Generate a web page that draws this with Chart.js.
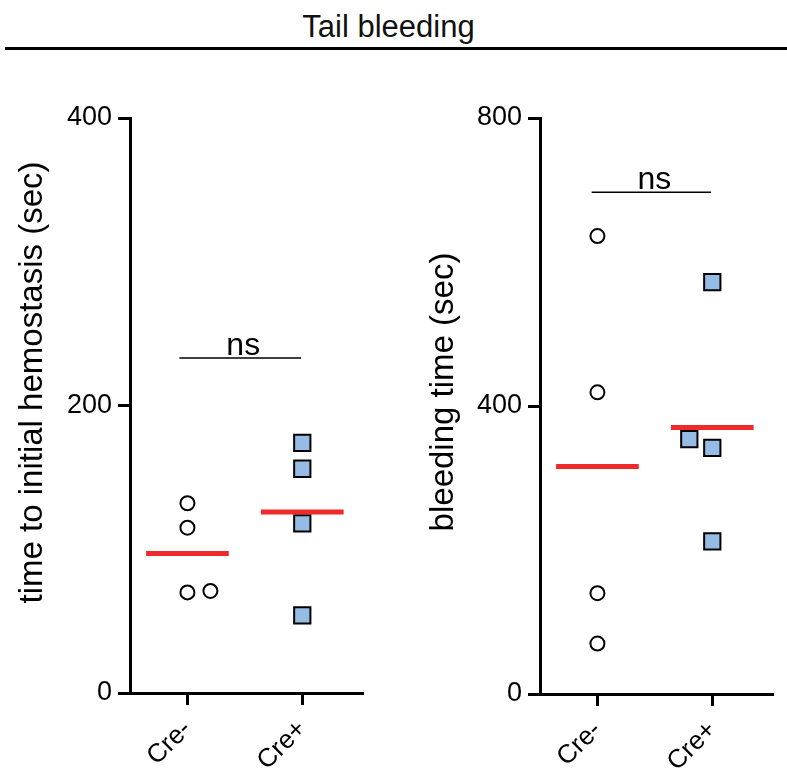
<!DOCTYPE html>
<html>
<head>
<meta charset="utf-8">
<script src="https://cdn.jsdelivr.net/npm/chart.js@4.4.1/dist/chart.umd.min.js"></script>
<style>
  html, body { margin:0; padding:0; background:#fff; }
  body { width:787px; height:774px; position:relative; overflow:hidden; font-family:"Liberation Sans", Arial, sans-serif; }
  #title { position:absolute; left:0; width:777px; top:11px; line-height:31px; text-align:center; font-size:31px; color:#111; }
  #rule { position:absolute; left:5px; right:0; top:47px; height:3px; background:#000; }
  canvas { position:absolute; top:60px; }
  #chart1 { left:0; }
  #chart2 { left:400px; }
</style>
</head>
<body>
<div id="title">Tail bleeding</div>
<div id="rule"></div>
<canvas id="chart1" width="390" height="714"></canvas>
<canvas id="chart2" width="387" height="714"></canvas>
<script>
// groups on the x axis
const categories = ['Cre-', 'Cre+'];

// left panel: time to initial hemostasis (sec)
const hemoCreNeg  = [132, 115, 70, 71];
const hemoCreNegX = [1, 1, 1, 1.2];
const hemoCrePos  = [174, 156, 118, 54];
const hemoCrePosX = [2, 2, 2, 2];
const hemoMeans   = [97, 126];
const hemoNs      = 233;
const hemoTicks   = [0, 200, 400];

// right panel: bleeding time (sec)
const bleedCreNeg  = [636, 419, 140, 70];
const bleedCreNegX = [1, 1, 1, 1];
const bleedCrePos  = [354, 342, 572, 212];
const bleedCrePosX = [1.8, 2, 2, 2];
const bleedMeans   = [316, 370];
const bleedNs      = 697;
const bleedTicks   = [0, 400, 800];

const FONT = '"Liberation Sans", Arial, sans-serif';
Chart.defaults.font.family = FONT;
Chart.defaults.color = '#000';

// writes "ns" above the bracket line
const nsLabel = {
  id: 'nsLabel',
  afterDatasetsDraw(chart) {
    const ds = chart.data.datasets.find(d => d.label === 'ns');
    if (!ds) return;
    const d = ds.data;
    const xs = chart.scales.x, ys = chart.scales.y;
    const cx = (xs.getPixelForValue(d[0].x) + xs.getPixelForValue(d[1].x)) / 2 + 3;
    const cy = ys.getPixelForValue(d[0].y) - 3;
    const ctx = chart.ctx;
    ctx.save();
    ctx.font = '32px ' + FONT;
    ctx.fillStyle = '#000';
    ctx.textAlign = 'center';
    ctx.textBaseline = 'alphabetic';
    ctx.fillText('ns', cx, cy);
    ctx.restore();
  }
};

// rotated y axis title, a bit above the middle of the axis like the original
const yTitle = {
  id: 'yTitle',
  afterDraw(chart, args, opts) {
    const a = chart.chartArea, ctx = chart.ctx;
    ctx.save();
    ctx.translate(opts.x, (a.top + a.bottom) / 2 - opts.dy);
    ctx.rotate(-Math.PI / 2);
    ctx.font = opts.size + 'px ' + FONT;
    ctx.fillStyle = '#000';
    ctx.textAlign = 'center';
    ctx.textBaseline = 'middle';
    ctx.fillText(opts.text, 0, 0);
    ctx.restore();
  }
};

function pts(xs, ys) { return ys.map((y, i) => ({ x: xs[i], y })); }

function makeChart(id, c) {
  const meanSets = c.means.map((m, i) => ({
    type: 'line', label: 'mean ' + categories[i],
    data: [{ x: i + 1 - 0.36, y: m }, { x: i + 1 + 0.36, y: m }],
    borderColor: '#ee2a2a', borderWidth: 5, pointRadius: 0, borderCapStyle: 'butt'
  }));
  return new Chart(document.getElementById(id), {
    type: 'scatter',
    data: {
      datasets: [
        ...meanSets,
        { label: categories[0], data: pts(c.negX, c.neg), pointStyle: 'circle', pointRadius: 7,
          borderWidth: 2, borderColor: '#000', backgroundColor: '#fff' },
        { label: categories[1], data: pts(c.posX, c.pos), pointStyle: 'rect', pointRadius: 11.5,
          borderWidth: 2, borderColor: '#000', backgroundColor: '#94bce4' },
        { type: 'line', label: 'ns', data: [{ x: c.nsFrom, y: c.ns }, { x: 1.99, y: c.ns }],
          borderColor: '#000', borderWidth: 1.5, pointRadius: 0 }
      ]
    },
    options: {
      responsive: false, animation: false, devicePixelRatio: 1,
      layout: { padding: { top: 58, right: c.padRight, bottom: 0, left: 0 } },
      plugins: {
        legend: { display: false }, tooltip: { enabled: false },
        yTitle: { text: c.title, x: c.titleX, dy: c.titleDy, size: 33 }
      },
      scales: {
        x: {
          type: 'linear', min: 0.5, max: 2.52,
          afterFit: s => { s.height = c.xHeight; },
          afterBuildTicks: s => { s.ticks = categories.map((_, i) => ({ value: i + 1 })); },
          ticks: { callback: v => categories[v - 1], minRotation: 45, maxRotation: 45, autoSkip: false,
                   font: { size: 26 }, padding: 9 },
          grid: { drawOnChartArea: false, drawTicks: true, tickLength: 12, lineWidth: 3, color: '#000' },
          border: { display: true, width: 3, color: '#000' }
        },
        y: {
          min: 0, max: c.ticks[c.ticks.length - 1],
          afterFit: s => { s.width = c.yWidth; },
          afterBuildTicks: s => { s.ticks = c.ticks.map(v => ({ value: v })); },
          ticks: { font: { size: 27 }, padding: 6 },
          grid: { drawOnChartArea: false, drawTicks: true, tickLength: 12, lineWidth: 3, color: '#000' },
          border: { display: true, width: 3, color: '#000' }
        }
      }
    },
    plugins: [nsLabel, yTitle]
  });
}

makeChart('chart1', {
  neg: hemoCreNeg, negX: hemoCreNegX, pos: hemoCrePos, posX: hemoCrePosX,
  means: hemoMeans, ns: hemoNs, nsFrom: 0.93, ticks: hemoTicks,
  title: 'time to initial hemostasis (sec)', titleX: 33, titleDy: 23,
  yWidth: 130, xHeight: 81, padRight: 28
});

makeChart('chart2', {
  neg: bleedCreNeg, negX: bleedCreNegX, pos: bleedCrePos, posX: bleedCrePosX,
  means: bleedMeans, ns: bleedNs, nsFrom: 0.95, ticks: bleedTicks,
  title: 'bleeding time (sec)', titleX: 44, titleDy: 14,
  yWidth: 140, xHeight: 80, padRight: 15
});
</script>
</body>
</html>
